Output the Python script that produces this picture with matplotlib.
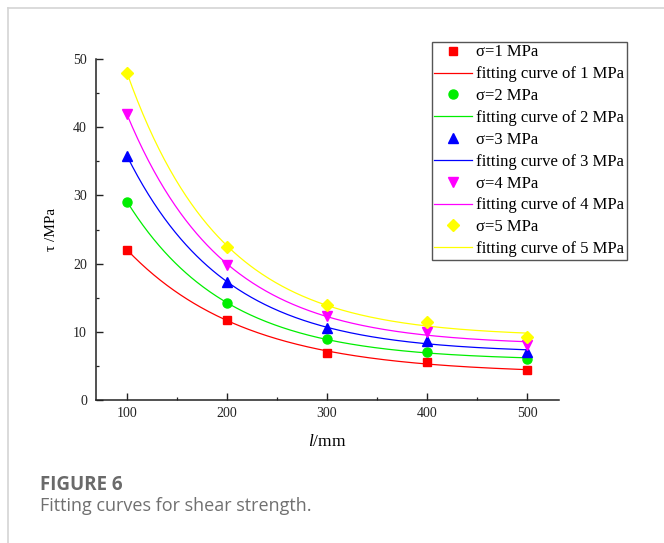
import numpy as np
import matplotlib
matplotlib.use("Agg")
import matplotlib.pyplot as plt
from matplotlib.lines import Line2D
from matplotlib.ticker import MultipleLocator

plt.rcParams['font.family'] = ['Liberation Serif', 'DejaVu Serif']
plt.rcParams['mathtext.fontset'] = 'custom'
plt.rcParams['mathtext.rm'] = 'Liberation Serif'
plt.rcParams['mathtext.it'] = 'Liberation Serif:italic'

# measured shear strength (MPa) against joint length l (mm)
lengths = [100, 200, 300, 400, 500]
tau_1 = [22.0, 11.8, 6.9, 5.5, 4.4]
tau_2 = [29.1, 14.2, 8.9, 7.1, 6.0]
tau_3 = [35.8, 17.3, 10.6, 8.6, 7.1]
tau_4 = [41.9, 19.8, 12.3, 10.0, 8.1]
tau_5 = [48.0, 22.4, 14.0, 11.5, 9.2]
stresses = [1, 2, 3, 4, 5]

series = [tau_1, tau_2, tau_3, tau_4, tau_5]
colors = ['#ff0000', '#00ee00', '#0000ff', '#ff00ff', '#ffff00']
markers = ['s', 'o', '^', 'v', 'D']
msizes = [6, 6.5, 6.5, 6.5, 6]


def fit_expdec(x, y):
    # y = y0 + A*exp(-x/t), grid search over t with linear least squares
    x = np.asarray(x, float)
    y = np.asarray(y, float)
    best = None
    for t in np.linspace(20, 500, 961):
        M = np.column_stack([np.ones_like(x), np.exp(-x / t)])
        coef, *_ = np.linalg.lstsq(M, y, rcond=None)
        err = np.sum((M @ coef - y) ** 2)
        if best is None or err < best[0]:
            best = (err, coef, t)
    _, (y0, a), t = best
    return lambda xx: y0 + a * np.exp(-xx / t)


fig = plt.figure(figsize=(6.64, 5.43), dpi=100)
ax = fig.add_axes([96 / 664, 1 - 400 / 543, 463 / 664, 341 / 543])

handles = []
labels = []
xs = np.linspace(lengths[0], lengths[-1], 300)
for s, y, c, m, ms in zip(stresses, series, colors, markers, msizes):
    f = fit_expdec(lengths, y)
    ln, = ax.plot(xs, f(xs), color=c, lw=0.9, zorder=2)
    pts, = ax.plot(lengths, y, ls='none', marker=m, color=c, ms=ms, zorder=3)
    handles += [pts, ln]
    labels += [f'σ={s} MPa', f'fitting curve of {s} MPa']

ax.set_xlim(69, 532)
ax.set_ylim(0, 50)
ax.xaxis.set_major_locator(MultipleLocator(100))
ax.xaxis.set_minor_locator(MultipleLocator(50))
ax.yaxis.set_major_locator(MultipleLocator(10))
ax.yaxis.set_minor_locator(MultipleLocator(5))
for side in ['top', 'right']:
    ax.spines[side].set_visible(False)
for side in ['left', 'bottom']:
    ax.spines[side].set_linewidth(1.1)
    ax.spines[side].set_color('#222222')
ax.tick_params(which='major', direction='in', length=4.7, width=1.0, labelsize=10, colors='#222222')
ax.tick_params(which='minor', direction='in', length=2.5, width=0.9, colors='#222222')
ax.tick_params(axis='x', which='major', pad=5)
ax.tick_params(axis='y', which='major', pad=6.5)

ax.set_ylabel('τ /MPa', fontsize=11)
ax.yaxis.set_label_coords((58 - 96) / 463, 0.5)
ax.set_xlabel(r'$\mathit{l}$/mm', fontsize=12.5)
ax.xaxis.set_label_coords(0.5, -(442 - 400) / 341)
ax.xaxis.label.set_va('center')

leg = fig.legend(handles, labels, loc='upper right',
                 bbox_to_anchor=(627 / 664, 1 - 42 / 543),
                 bbox_transform=fig.transFigure, fontsize=12,
                 numpoints=1, handlelength=2.25, handletextpad=0.3,
                 labelspacing=0.35, borderpad=0.15, borderaxespad=0,
                 fancybox=False, framealpha=1)
leg.get_frame().set_edgecolor('#555555')
leg.get_frame().set_linewidth(1.0)

# page frame lines
fig.add_artist(Line2D([7.5 / 664, 7.5 / 664], [0, 1 - 7.5 / 543], transform=fig.transFigure,
                      color='#d4d4d4', lw=1.2))
fig.add_artist(Line2D([7.5 / 664, 1], [1 - 7.5 / 543, 1 - 7.5 / 543], transform=fig.transFigure,
                      color='#d4d4d4', lw=1.2))

fig.text(40 / 664, 1 - 485 / 543, 'FIGURE 6', family='Open Sans', weight='bold',
         fontsize=13.5, color='#6a6a6a', va='center', ha='left')
fig.text(40 / 664, 1 - 506 / 543, 'Fitting curves for shear strength.', family='Open Sans',
         fontsize=13, color='#707070', va='center', ha='left')

fig.savefig('out.png', dpi=100)
